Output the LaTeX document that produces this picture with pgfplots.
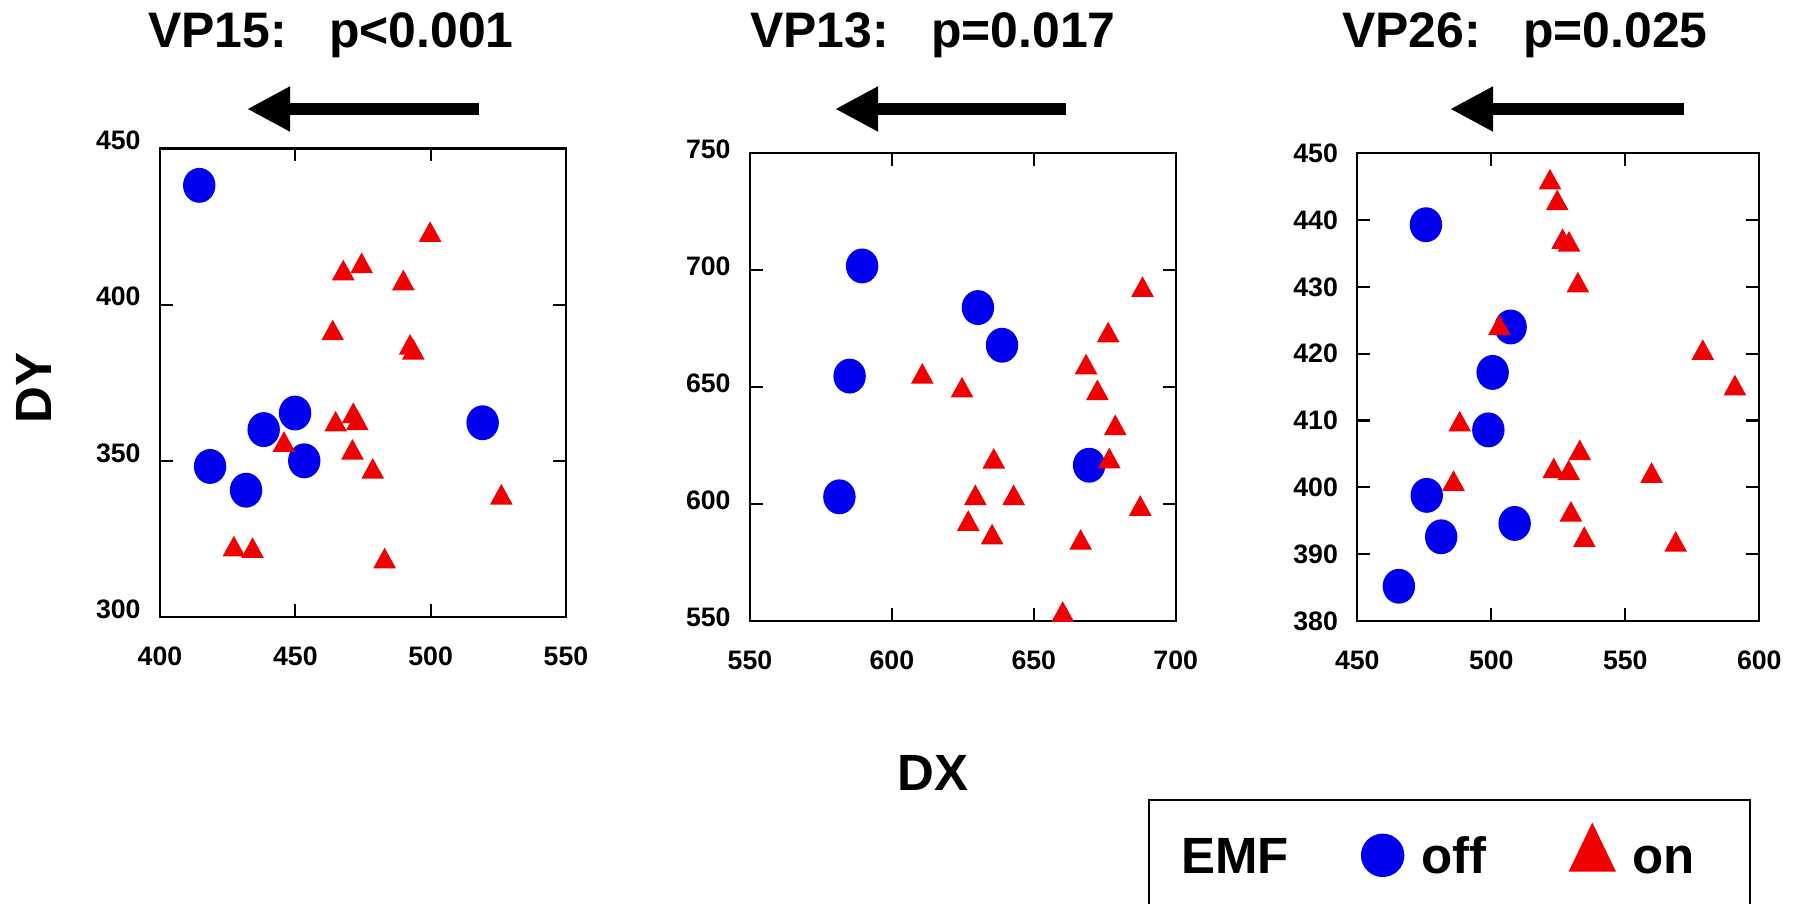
\documentclass[border=0pt]{standalone}
\usepackage{fontspec}
\setmainfont{Liberation Sans}
\usepackage{pgfplots}
\pgfplotsset{compat=1.18}
\usetikzlibrary{arrows.meta}

\definecolor{emfblue}{RGB}{0,0,238}
\definecolor{emfred}{RGB}{240,0,0}

\newcommand{\bigfont}{\fontsize{14.5}{16}\selectfont\bfseries}
\newcommand{\titlefont}{\fontsize{14.2}{16}\selectfont\bfseries}
\newcommand{\tickfont}{\fontsize{7.6}{8}\selectfont\bfseries}

\pgfplotsset{
  panel/.style={
    scale only axis,
    anchor=south west,
    clip=false,
    axis line style={line width=0.6pt},
    tick style={line width=0.6pt, black},
    tick align=inside,
    tick pos=both,
    major tick length=0.13cm,
    ticklabel style={font=\tickfont},
    /pgf/number format/assume math mode=true,
    xticklabel style={yshift=-0.17cm},
    yticklabel style={xshift=-0.07cm},
  },
  off/.style={only marks, mark=*, mark size=0.155cm, mark options={yscale=1.08}, color=emfblue},
  on/.style={only marks, mark=triangle*, mark size=0.117cm, mark options={yscale=1.05}, color=emfred},
}

\begin{document}
\begin{tikzpicture}
\useasboundingbox (0,0) rectangle (17.93,-9.04);

% panel 1
\begin{axis}[panel, at={(1.60cm,-6.17cm)}, width=4.06cm, height=4.685cm,
  xmin=400, xmax=550, ymin=300, ymax=450,
  xtick={400,450,500,550}, ytick={300,350,400,450},
  yticklabel style={yshift=0.08cm}]
\addplot[off] coordinates {
  (414.5,438.2) (418.5,348.2) (431.8,340.6) (438.3,360.0) (449.9,365.3) (453.3,350.0) (519.2,362.2)
};
\addplot[on] coordinates {
  (499.8,422.3) (474.5,412.3) (467.7,410.0) (489.9,406.8) (463.8,390.8) (492.4,386.2)
  (493.6,384.6) (471.4,364.3) (472.9,362.0) (464.9,361.6) (445.8,355.1) (471.1,352.6)
  (478.6,346.5) (526.1,338.2) (427.3,321.6) (434.2,321.1) (483.0,317.8)
};
\end{axis}

% panel 2
\begin{axis}[panel, at={(7.50cm,-6.21cm)}, width=4.257cm, height=4.678cm,
  xmin=550, xmax=700, ymin=550, ymax=750,
  xtick={550,600,650,700}, ytick={550,600,650,700,750},
  yticklabel style={yshift=0.035cm}]
\addplot[off] coordinates {
  (589.5,701.8) (630.3,684.0) (638.8,667.9) (585.1,654.7) (581.5,603.1) (669.5,616.6)
};
\addplot[on] coordinates {
  (688.3,691.5) (676.2,672.1) (668.4,658.4) (672.4,647.4) (678.7,632.4) (676.6,618.2)
  (610.7,654.4) (624.7,648.5) (635.9,618.1) (629.4,602.5) (642.9,602.5) (626.9,591.5)
  (635.3,585.7) (687.5,597.9) (666.5,583.4) (660.2,552.6)
};
\end{axis}

% panel 3 (carries the legend)
\begin{axis}[panel, at={(13.573cm,-6.21cm)}, width=4.02cm, height=4.678cm,
  xmin=450, xmax=600, ymin=380, ymax=450,
  xtick={450,500,550,600}, ytick={380,390,...,450},
  legend columns=3,
  legend style={draw=none, fill=none, font=\bigfont,
    at={(-0.495,-0.495)}, anchor=west, inner xsep=1.5mm,
    nodes={text height=10.6pt, text depth=0pt},
    /tikz/column 2/.style={column sep=0.66cm},
    /tikz/column 3/.style={column sep=0.11cm},
    /tikz/column 4/.style={column sep=0.76cm},
    /tikz/column 5/.style={column sep=0.11cm}}]
\addlegendimage{empty legend}
\addlegendentry{EMF}
\addlegendimage{only marks, mark=*, mark size=0.21cm, color=emfblue}
\addlegendentry{off}
\addlegendimage{only marks, mark=triangle*, mark size=0.26cm, mark options={yscale=1.2}, color=emfred}
\addlegendentry{on}
\addplot[off, forget plot] coordinates {
  (475.6,439.3) (507.2,424.0) (500.5,417.2) (498.9,408.6) (475.9,398.8) (481.3,392.6)
  (508.7,394.6) (465.5,385.2)
};
\addplot[on, forget plot] coordinates {
  (521.9,445.6) (524.6,442.5) (526.6,436.7) (529.0,436.3) (532.3,430.2) (503.0,423.8)
  (578.9,420.1) (590.9,414.8) (488.2,409.4) (533.0,405.1) (523.3,402.4) (528.9,402.1)
  (559.8,401.7) (485.9,400.5) (529.7,395.9) (534.7,392.1) (568.8,391.4)
};
\end{axis}

% titles
\node[font=\titlefont, anchor=base, inner sep=0] at (3.31,-0.48) {VP15:\hspace{0.42cm}p<0.001};
\node[font=\titlefont, anchor=base, inner sep=0] at (9.33,-0.48) {VP13:\hspace{0.42cm}p=0.017};
\node[font=\titlefont, anchor=base, inner sep=0] at (15.25,-0.48) {VP26:\hspace{0.42cm}p=0.025};

% direction arrows
\foreach \a/\b in {4.79/2.47, 10.66/8.35, 16.84/14.50}
  \draw[line width=0.12cm, -{Triangle[length=0.43cm, width=0.42cm]}] (\a,-1.09) -- (\b,-1.09);

% axis labels
\node[font=\bigfont, rotate=90] at (0.34,-3.88) {DY};
\node[font=\bigfont] at (9.33,-7.73) {DX};

% legend frame (runs past the bottom edge)
\draw[line width=0.6pt] (11.49,-9.30) |- (17.50,-8.00) -- (17.50,-9.30);
\end{tikzpicture}
\end{document}
